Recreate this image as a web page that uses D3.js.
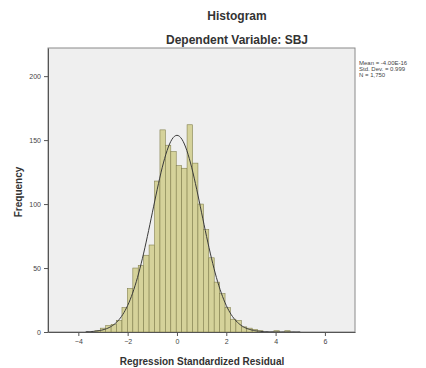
<!DOCTYPE html>
<html>
<head>
<meta charset="utf-8">
<script src="https://cdn.jsdelivr.net/npm/d3@7"></script>
<style>
  body { margin: 0; background: #fff; }
  svg { display: block; font-family: "Liberation Sans", Arial, sans-serif; }
</style>
</head>
<body>
<div id="chart"></div>
<script>
// histogram bins (regression standardized residual)
const binStart = -3.33;
const binWidth = 0.22;
const counts = [1, 3, 5, 6, 9, 19, 34, 50, 52, 60, 68, 118, 158, 146, 141, 130, 128, 162, 132, 100,
                80, 58, 39, 30, 19, 10, 9, 4, 3, 2, 1, 0, 0, 1, 0, 1];

// summary stats shown in the legend
const stats = { mean: 0, sd: 0.999, n: 1750 };
const legendLines = ["Mean = -4.00E-16", "Std. Dev. = 0.999", "N = 1,750"];

const xTicks = [-4, -2, 0, 2, 4, 6];
const yTicks = [0, 50, 100, 150, 200];

const width = 426, height = 368;
const plot = { left: 48, right: 355, top: 48, bottom: 332 };

const svg = d3.select("#chart").append("svg")
  .attr("width", width)
  .attr("height", height);

const x = d3.scaleLinear().domain([-5.23, 7.22]).range([plot.left, plot.right]);
const y = d3.scaleLinear().domain([0, 222]).range([plot.bottom, plot.top]);

// plot background
svg.append("rect")
  .attr("x", plot.left).attr("y", plot.top)
  .attr("width", plot.right - plot.left)
  .attr("height", plot.bottom - plot.top)
  .attr("fill", "#efefef")
  .attr("stroke", "#8a8a8a")
  .attr("stroke-width", 1);

// bars
const bins = counts.map((c, i) => ({ x0: binStart + i * binWidth, x1: binStart + (i + 1) * binWidth, c }));
svg.append("g")
  .selectAll("rect")
  .data(bins.filter(d => d.c > 0))
  .join("rect")
    .attr("x", d => x(d.x0))
    .attr("y", d => y(d.c))
    .attr("width", d => x(d.x1) - x(d.x0))
    .attr("height", d => y(0) - y(d.c))
    .attr("fill", "#d5d29a")
    .attr("stroke", "#83804f")
    .attr("stroke-width", 0.6);

// fitted normal curve
const pdf = v => Math.exp(-0.5 * ((v - stats.mean) / stats.sd) ** 2) / (stats.sd * Math.sqrt(2 * Math.PI));
const curvePts = d3.range(-3.7, 5.01, 0.05).map(v => [v, stats.n * binWidth * pdf(v)]);
svg.append("path")
  .datum(curvePts)
  .attr("fill", "none")
  .attr("stroke", "#3a3a3a")
  .attr("stroke-width", 1)
  .attr("d", d3.line().x(d => x(d[0])).y(d => y(d[1])));

// axes
const xAxis = svg.append("g")
  .attr("transform", `translate(0,${plot.bottom})`)
  .call(d3.axisBottom(x).tickValues(xTicks).tickSize(4).tickSizeOuter(0).tickPadding(3).tickFormat(d3.format("d")));
const yAxis = svg.append("g")
  .attr("transform", `translate(${plot.left},0)`)
  .call(d3.axisLeft(y).tickValues(yTicks).tickSize(4).tickSizeOuter(0).tickPadding(3));

[xAxis, yAxis].forEach(a => {
  a.select(".domain").attr("stroke", "#555");
  a.selectAll(".tick line").attr("stroke", "#555");
  a.selectAll(".tick text").attr("fill", "#444").style("font-size", "7px")
    .style("font-family", "'Liberation Sans', Arial, sans-serif");
});

// titles
svg.append("text")
  .attr("x", 237).attr("y", 20)
  .attr("text-anchor", "middle")
  .style("font-size", "12px").style("font-weight", "bold")
  .attr("fill", "#333")
  .text("Histogram");
svg.append("text")
  .attr("x", 237).attr("y", 44)
  .attr("text-anchor", "middle")
  .style("font-size", "12px").style("font-weight", "bold")
  .attr("fill", "#333")
  .text("Dependent Variable: SBJ");

// axis labels
svg.append("text")
  .attr("transform", `translate(22,${(plot.top + plot.bottom) / 2 + 2}) rotate(-90)`)
  .attr("text-anchor", "middle")
  .style("font-size", "10px").style("font-weight", "bold")
  .attr("fill", "#333")
  .text("Frequency");
svg.append("text")
  .attr("x", 202).attr("y", 365)
  .attr("text-anchor", "middle")
  .style("font-size", "10px").style("font-weight", "bold")
  .attr("fill", "#333")
  .text("Regression Standardized Residual");

// legend
svg.append("g")
  .selectAll("text")
  .data(legendLines)
  .join("text")
    .attr("x", 359)
    .attr("y", (d, i) => 65 + i * 6)
    .style("font-size", "6px")
    .attr("fill", "#444")
    .text(d => d);
</script>
</body>
</html>
